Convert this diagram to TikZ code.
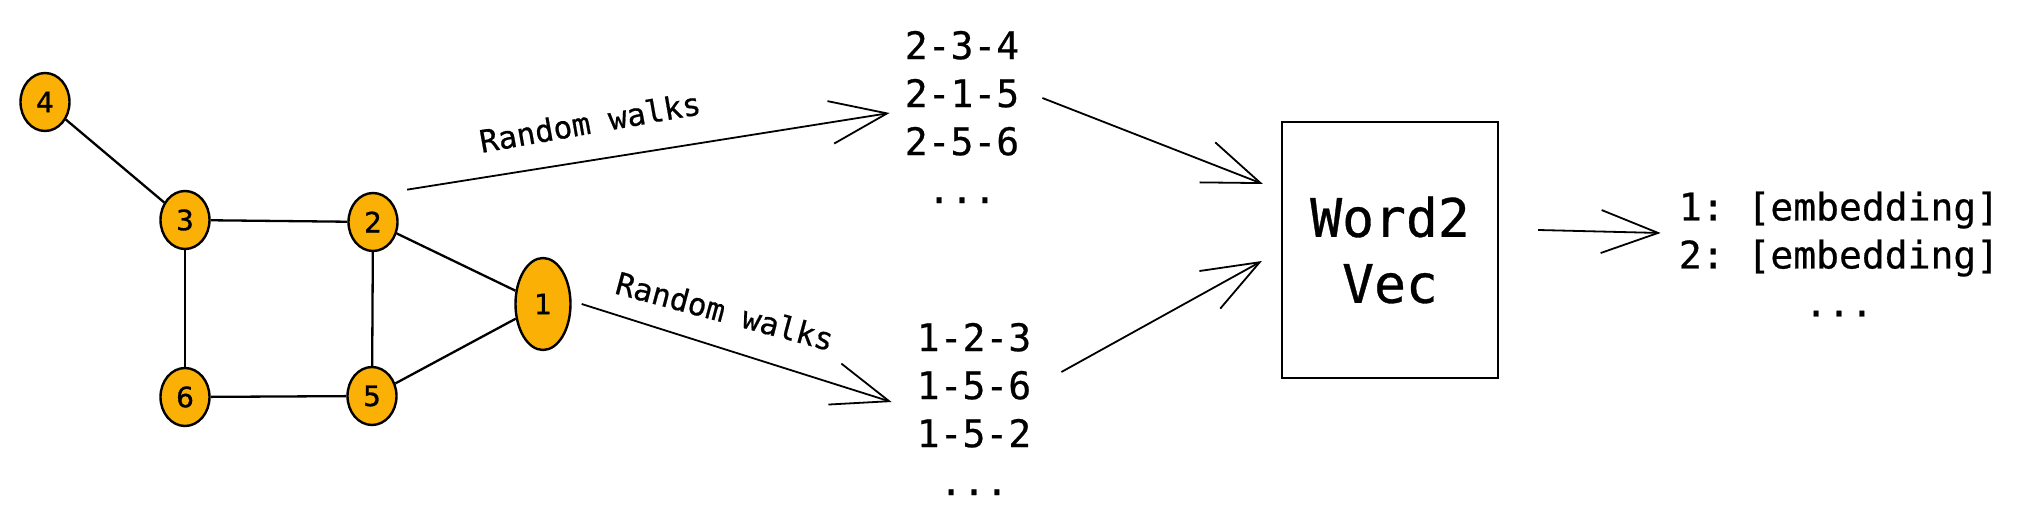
\documentclass[tikz,border=0pt]{standalone}
\usepackage{fontspec}
\setmonofont{DejaVu Sans Mono}[FakeBold=0.6]
\newfontfamily\vertexfont{DejaVu Sans}[FakeBold=1]
\usetikzlibrary{shapes.geometric,arrows.meta}

\definecolor{vertexorange}{RGB}{250,176,5}

\begin{document}
\begin{tikzpicture}[x=1pt,y=-1pt]
        % Define styles
        \tikzset{
            vertex/.style={ellipse, draw, line width=2.4pt, fill=vertexorange, inner sep=0pt,
                minimum width=49pt, minimum height=58pt, font=\vertexfont\fontsize{28}{32}\selectfont},
            edge/.style={line width=2.3pt},
            walks/.style={align=center, inner sep=0pt, font=\ttfamily\fontsize{38}{48}\selectfont},
            walklabel/.style={inner sep=0pt, font=\ttfamily\fontsize{31}{36}\selectfont},
            model/.style={rectangle, draw, line width=2.2pt, minimum width=216pt, minimum height=256pt,
                align=center, font=\ttfamily\fontsize{53}{66}\selectfont},
            arrow/.style={-{Straight Barb[length=57pt,width=43pt]}, line width=1.8pt}
        }
        \useasboundingbox (0,0) rectangle (2025,526);

        % Graph
        \node[vertex] (vertex_4) at (45,102) {4};
        \node[vertex] (vertex_3) at (185,220) {3};
        \node[vertex] (vertex_2) at (373,222) {2};
        \node[vertex] (vertex_6) at (185,397) {6};
        \node[vertex] (vertex_5) at (372,396) {5};
        \node[vertex, minimum width=55pt, minimum height=92pt] (vertex_1) at (543,304) {1};

        \draw[edge] (vertex_4) -- (vertex_3);
        \draw[edge] (vertex_3) -- (vertex_2);
        \draw[edge] (vertex_3) -- (vertex_6);
        \draw[edge] (vertex_2) -- (vertex_5);
        \draw[edge] (vertex_6) -- (vertex_5);
        \draw[edge] (vertex_2) -- (vertex_1);
        \draw[edge] (vertex_5) -- (vertex_1);

        % Walks, model and output
        \node[walks] (walks_up) at (962,117) {2-3-4\\2-1-5\\2-5-6\\...};
        \node[walks] (walks_down) at (974,409) {1-2-3\\1-5-6\\1-5-2\\...};
        \node[model] (word2vec_box) at (1390,250) {Word2\\Vec};
        \node[walks] (embeddings) at (1839,254) {1: [embedding]\\2: [embedding]\\...};

        \node[walklabel, rotate=10] (label_up) at (590,122) {Random walks};
        \node[walklabel, rotate=-15] (label_down) at (725,311) {Random walks};

        % Arrows
        \draw[arrow] ([xshift=16pt,yshift=11pt]vertex_2.north east) -- ([xshift=-15pt,yshift=4pt]walks_up.west);
        \draw[arrow] ([xshift=10pt]vertex_1.east) -- ([xshift=-25pt,yshift=7pt]walks_down.west);
        \draw[arrow] ([xshift=23pt,yshift=19pt]walks_up.east) -- ([xshift=-18pt,yshift=66pt]word2vec_box.west);
        \draw[arrow] ([xshift=30pt,yshift=37pt]walks_down.east) -- ([xshift=-19pt,yshift=-11pt]word2vec_box.west);
        \draw[arrow] ([xshift=39pt,yshift=20pt]word2vec_box.east) -- ([xshift=-18pt,yshift=21pt]embeddings.west);
    \end{tikzpicture}
\end{document}
